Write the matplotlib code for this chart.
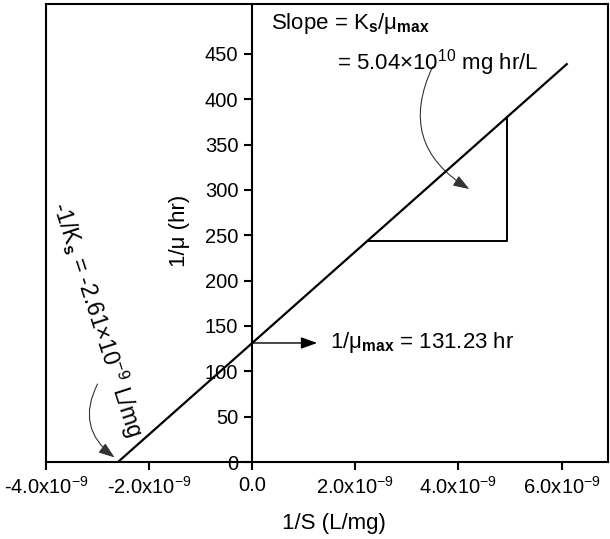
import numpy as np
import matplotlib
matplotlib.use('Agg')
import matplotlib.pyplot as plt
from matplotlib.patches import FancyArrowPatch

plt.rcParams['font.family'] = ['Liberation Sans', 'DejaVu Sans']
plt.rcParams['mathtext.fontset'] = 'custom'
plt.rcParams['mathtext.rm'] = 'Liberation Sans'
plt.rcParams['mathtext.it'] = 'Liberation Sans'
plt.rcParams['mathtext.bf'] = 'Liberation Sans:bold'

# Lineweaver-Burk fit
slope = 5.04e10          # Ks/mu_max (mg hr/L)
intercept = 131.23       # 1/mu_max (hr)
x_intercept = -2.61e-9   # -1/Ks (L/mg)
line_x = np.array([x_intercept, 6.1e-9])
line_y = intercept + slope * line_x

# slope triangle
tri_y0 = 244.0
tri_x1 = 4.95e-9

x_ticks = [-4e-9, -2e-9, 0, 2e-9, 4e-9, 6e-9]
x_ticklabels = [r'-4.0x10$^{-9}$', r'-2.0x10$^{-9}$', '0.0',
                r'2.0x10$^{-9}$', r'4.0x10$^{-9}$', r'6.0x10$^{-9}$']
y_ticks = [0, 50, 100, 150, 200, 250, 300, 350, 400, 450]

fig = plt.figure(figsize=(6.1, 5.39), dpi=100)
ax = fig.add_axes([46/610, 77/539, 562/610, 458/539])
ax.set_xlim(-4.0e-9, 6.9e-9)
ax.set_ylim(0, 505)

ax.plot(line_x, line_y, color='black', lw=1.6, clip_on=True)

# triangle
tri_x0 = (tri_y0 - intercept) / slope
tri_top = intercept + slope * tri_x1
ax.plot([tri_x0, tri_x1, tri_x1], [tri_y0, tri_y0, tri_top], color='black', lw=1.4)

# axes: y axis crosses at x=0, box around the plot
ax.spines['left'].set_position(('data', 0))
for s in ax.spines.values():
    s.set_linewidth(1.5)
ax.plot([0, 0], [0, 1], transform=ax.transAxes, color='black', lw=1.5, clip_on=False)

ax.set_xticks(x_ticks)
ax.set_xticklabels(x_ticklabels)
ax.set_yticks(y_ticks)
ax.tick_params(axis='both', direction='out', length=6, width=1.5, labelsize=14.5, pad=4)
ax.tick_params(top=False, right=False)

ax.text(-1.42e-9, 255, '1/\u03bc (hr)', rotation=90, ha='center', va='center', fontsize=16)
fig.text(334/610, 1 - 523/539, '1/S (L/mg)', ha='center', va='center', fontsize=16)

# annotations
ax.text(0.37e-9, 484, 'Slope = K' + r'$_\mathbf{s}$' + '/\u03bc' + r'$_\mathbf{max}$',
        ha='left', va='center', fontsize=16)
ax.text(1.65e-9, 440, r'= 5.04$\times$10$^{10}$ mg hr/L', ha='left', va='center', fontsize=16)
ax.text(1.5e-9, intercept, '1/\u03bc' + r'$_\mathbf{max}$ = 131.23 hr', ha='left', va='center', fontsize=16)
ax.text(-3.0e-9, 158, r'-1/K$_\mathbf{s}$ = -2.61$\times$10$^{-9}$ L/mg', rotation=-72,
        rotation_mode='anchor', ha='center', va='center', fontsize=16.5)

arrows = [
    ((0, intercept), (1.26e-9, intercept), 0.0, 'black', 1.0),
    ((3.5e-9, 436), (4.21e-9, 301), 0.45, '#333333', 0.8),
    ((-3.0e-9, 86), (-2.67e-9, 5), 0.42, '#333333', 0.8),
]
for start, end, rad, col, lw in arrows:
    ax.add_patch(FancyArrowPatch(start, end, connectionstyle='arc3,rad=%s' % rad,
                                 arrowstyle='-|>,head_length=0.7,head_width=0.25',
                                 mutation_scale=14, color=col, lw=lw,
                                 shrinkA=0, shrinkB=0))

fig.savefig('out.png', dpi=100)
